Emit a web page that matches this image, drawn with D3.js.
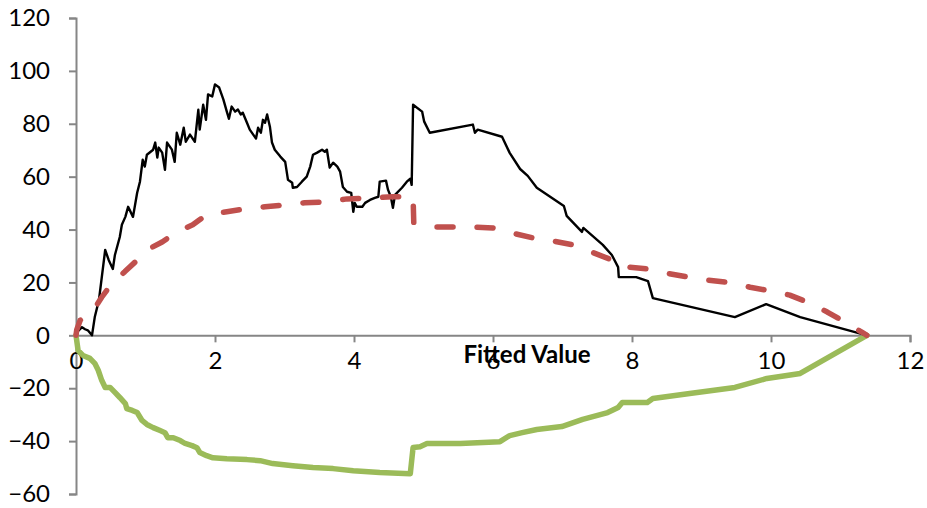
<!DOCTYPE html>
<html>
<head>
<meta charset="utf-8">
<script src="https://cdn.jsdelivr.net/npm/d3@7"></script>
<style>
  html, body { margin: 0; padding: 0; background: #fff; }
  svg text { font-family: Lato, "Open Sans", sans-serif; fill: #000; }
</style>
</head>
<body>
<svg id="chart" width="927" height="508"></svg>
<script>
// Cumulative residual path (black)
const residualX = [0, 0.014, 0.086, 0.13, 0.17, 0.23, 0.27, 0.33, 0.42, 0.47, 0.53, 0.56, 0.63, 0.66, 0.71, 0.75, 0.82, 0.88, 0.92, 0.96, 0.99, 1.02, 1.11, 1.14, 1.17, 1.19, 1.24, 1.28, 1.31, 1.38, 1.42, 1.45, 1.50, 1.55, 1.58, 1.64, 1.71, 1.76, 1.78, 1.83, 1.87, 1.90, 1.96, 2.00, 2.06, 2.12, 2.17, 2.20, 2.24, 2.29, 2.33, 2.37, 2.40, 2.46, 2.50, 2.55, 2.59, 2.62, 2.66, 2.69, 2.72, 2.75, 2.79, 2.82, 2.86, 2.94, 3.01, 3.05, 3.11, 3.12, 3.18, 3.25, 3.32, 3.37, 3.41, 3.47, 3.54, 3.58, 3.61, 3.65, 3.70, 3.76, 3.80, 3.84, 3.90, 3.96, 3.99, 4.01, 4.04, 4.12, 4.16, 4.23, 4.30, 4.35, 4.37, 4.46, 4.49, 4.53, 4.56, 4.59, 4.69, 4.76, 4.81, 4.83, 4.85, 4.98, 5.01, 5.09, 5.71, 5.74, 5.78, 6.13, 6.24, 6.39, 6.50, 6.63, 7.02, 7.06, 7.28, 7.30, 7.58, 7.71, 7.80, 7.81, 8.06, 8.23, 8.30, 9.48, 9.93, 10.42, 11.38];
const residualY = [0, 1.2, 3.1, 2.3, 1.9, 0.0, 6.9, 13.3, 32.3, 28.5, 25.1, 30.4, 37.2, 41.8, 44.8, 48.6, 44.8, 53.9, 58.1, 66.4, 63.8, 68.3, 70.2, 72.9, 67.2, 71.0, 69.1, 62.6, 72.9, 70.2, 65.6, 76.6, 72.1, 78.5, 73.2, 75.9, 73.2, 85.3, 77.8, 87.2, 81.5, 91.1, 90.3, 94.9, 93.7, 89.2, 84.6, 81.9, 86.5, 84.6, 85.4, 83.5, 84.2, 80.4, 77.8, 75.9, 74.4, 78.5, 76.6, 81.5, 80.4, 83.5, 78.9, 72.9, 70.2, 67.6, 65.6, 58.8, 57.7, 55.8, 56.1, 58.1, 60.0, 63.8, 68.3, 69.1, 70.2, 69.4, 70.2, 63.4, 65.3, 63.8, 61.9, 56.1, 54.3, 53.9, 46.7, 50.1, 48.6, 48.6, 50.1, 51.2, 52.0, 52.4, 58.1, 58.5, 55.0, 52.4, 48.2, 53.1, 55.8, 58.1, 59.2, 56.9, 87.2, 84.6, 80.8, 76.6, 79.7, 76.6, 77.8, 75.1, 69.0, 62.9, 60.3, 55.8, 48.9, 45.2, 39.1, 40.6, 34.2, 30.4, 25.8, 22.0, 22.0, 20.5, 14.1, 6.9, 11.8, 6.9, 0];

// Upper bound (red dashed)
const upperX = [0, 0.01, 0.06, 0.25, 0.37, 0.52, 0.70, 0.85, 1.02, 1.24, 1.45, 1.68, 1.88, 2.17, 2.43, 2.72, 3.00, 3.29, 3.61, 3.90, 4.27, 4.56, 4.85, 4.86, 5.09, 5.41, 5.70, 6.00, 6.13, 6.27, 6.58, 6.85, 7.15, 7.42, 7.71, 7.78, 7.94, 8.26, 8.50, 8.81, 9.09, 9.44, 9.70, 10.01, 10.27, 10.56, 10.81, 11.09, 11.33, 11.38];
const upperY = [0, 2.0, 5.7, 9.5, 14.4, 19.8, 24.0, 27.7, 32.3, 35.3, 39.1, 41.8, 45.6, 46.7, 47.8, 48.6, 49.3, 50.1, 50.5, 51.6, 52.0, 52.4, 52.4, 42.7, 41.0, 41.0, 41.0, 40.6, 39.9, 38.7, 36.8, 35.7, 34.2, 31.5, 28.5, 26.6, 25.8, 25.0, 23.5, 22.0, 20.9, 19.8, 18.2, 16.7, 15.2, 12.2, 8.8, 4.6, 0.8, 0];

// Lower bound (green)
const lowerX = [0, 0.03, 0.10, 0.20, 0.27, 0.32, 0.37, 0.42, 0.49, 0.56, 0.63, 0.71, 0.73, 0.81, 0.88, 0.95, 1.02, 1.11, 1.21, 1.28, 1.32, 1.40, 1.50, 1.57, 1.67, 1.74, 1.78, 1.88, 1.97, 2.17, 2.46, 2.65, 2.83, 3.12, 3.41, 3.70, 3.99, 4.37, 4.81, 4.85, 4.95, 5.05, 5.53, 6.10, 6.24, 6.42, 6.63, 6.99, 7.29, 7.65, 7.80, 7.86, 8.22, 8.30, 8.83, 9.48, 9.94, 10.42, 11.38];
const lowerY = [0, -5.7, -7.6, -8.7, -10.6, -13.2, -17.0, -19.7, -19.7, -21.6, -23.5, -25.8, -27.7, -28.4, -29.2, -32.2, -33.7, -34.9, -36.0, -36.8, -38.7, -38.7, -39.8, -40.9, -41.7, -42.5, -44.3, -45.5, -46.3, -46.7, -47.0, -47.4, -48.5, -49.3, -50.0, -50.4, -51.2, -51.9, -52.3, -42.4, -42.1, -40.9, -40.9, -40.2, -37.9, -36.8, -35.6, -34.5, -31.8, -29.2, -27.3, -25.4, -25.4, -23.9, -22.0, -19.7, -16.3, -14.4, 0];

const xTicks = [0, 2, 4, 6, 8, 10, 12];
const yTicks = [-60, -40, -20, 0, 20, 40, 60, 80, 100, 120];
const xTitle = "Fitted Value";

const svg = d3.select("#chart");
const x = d3.scaleLinear().domain([0, 12]).range([76, 910]);
const y = d3.scaleLinear().domain([-60, 120]).range([494, 18]);
const axisColor = "#868686";
const fontSize = 24;

// Y axis on the left, ticks pointing outward
const yAxis = svg.append("g")
  .attr("transform", `translate(${x(0)},0)`)
  .call(d3.axisLeft(y).tickValues(yTicks).tickSize(7).tickPadding(19).tickFormat(d3.format("d")));
yAxis.select(".domain").attr("stroke", axisColor).attr("stroke-width", 2);
yAxis.selectAll(".tick line").attr("stroke", axisColor).attr("stroke-width", 2);
yAxis.selectAll(".tick text")
  .attr("font-size", fontSize).attr("font-family", "Lato, 'Open Sans', sans-serif")
  .attr("fill", "#000");

// X axis crossing at zero
const xAxis = svg.append("g")
  .attr("transform", `translate(0,${y(0)})`)
  .call(d3.axisBottom(x).tickValues(xTicks).tickSize(7).tickPadding(10).tickFormat(d3.format("d")));
xAxis.select(".domain").attr("stroke", axisColor).attr("stroke-width", 2);
xAxis.selectAll(".tick line").attr("stroke", axisColor).attr("stroke-width", 2);
xAxis.selectAll(".tick text")
  .attr("font-size", fontSize).attr("font-family", "Lato, 'Open Sans', sans-serif")
  .attr("fill", "#000");

svg.append("text")
  .attr("x", 527).attr("y", 363)
  .attr("text-anchor", "middle")
  .attr("font-size", 24).attr("font-weight", "bold")
  .text(xTitle);

function series(xs, ys) { return xs.map((v, i) => [v, ys[i]]); }
const line = d3.line().x(d => x(d[0])).y(d => y(d[1]));

svg.append("path")
  .datum(series(lowerX, lowerY))
  .attr("d", line)
  .attr("fill", "none").attr("stroke", "#9BBB59")
  .attr("stroke-width", 5.5).attr("stroke-linejoin", "round").attr("stroke-linecap", "round");

svg.append("path")
  .datum(series(residualX, residualY))
  .attr("d", line)
  .attr("fill", "none").attr("stroke", "#000")
  .attr("stroke-width", 2.4).attr("stroke-linejoin", "round");

svg.append("path")
  .datum(series(upperX, upperY))
  .attr("d", line)
  .attr("fill", "none").attr("stroke", "#C0504D")
  .attr("stroke-width", 5.5).attr("stroke-linejoin", "round").attr("stroke-linecap", "round")
  .attr("stroke-dasharray", "16,24");
</script>
</body>
</html>
